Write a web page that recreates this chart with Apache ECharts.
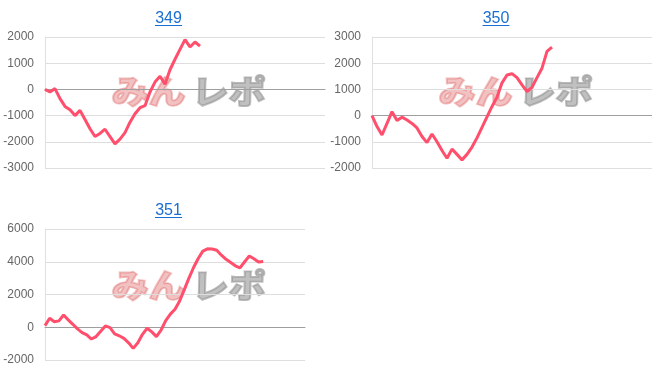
<!DOCTYPE html>
<html><head><meta charset="utf-8">
<script src="https://cdn.jsdelivr.net/npm/echarts@6/dist/echarts.min.js"></script>
<style>html,body{margin:0;padding:0;background:#fff}#c{width:652px;height:382px}</style>
</head><body><div id="c"></div>
<script>
const titles = ['349', '350', '351'];
const slotCount = 57;
const series349 = [0,-100,30,-350,-650,-780,-1000,-800,-1150,-1500,-1800,-1680,-1520,-1800,-2080,-1900,-1650,-1250,-930,-700,-620,-100,280,500,200,750,1150,1530,1900,1620,1810,1650];
const series350 = [0,-420,-740,-300,150,-190,-60,-170,-300,-470,-800,-1030,-700,-1000,-1330,-1630,-1280,-1480,-1690,-1480,-1200,-850,-450,-50,350,700,1250,1550,1600,1450,1170,920,1080,1450,1810,2450,2610];
const series351 = [100,550,340,390,750,450,180,-100,-330,-470,-720,-570,-250,80,-20,-400,-520,-680,-950,-1290,-950,-430,-60,-280,-570,-170,400,800,1100,1600,2300,3000,3650,4200,4650,4790,4780,4700,4400,4150,3950,3750,3620,4000,4350,4180,3980,4020];
const yRanges = [[-3000,2000,1000],[-2000,3000,1000],[-2000,6000,2000]];
const allSeries = [series349, series350, series351];

const slots = Array.from({length: slotCount}, (_, i) => String(i));
const grids = [
  {left:45, top:37, width:280, height:131},
  {left:372, top:37, width:280, height:131},
  {left:45, top:229, width:260, height:131}
];
const titleCenters = [[168.5,11],[496,11],[168.5,203]];
const chart = echarts.init(document.getElementById('c'), null, {renderer:'canvas'});
const font = 'Arial, "Liberation Sans", sans-serif';
const wmFont = 'italic 900 37px "Noto Sans CJK JP"';
const option = {
  animation:false,
  grid: grids,
  xAxis: grids.map((g,i)=>({
    type:'category', gridIndex:i, data:slots, boundaryGap:false,
    axisLabel:{show:false}, axisTick:{show:false},
    axisLine:{show:true, onZero:true, lineStyle:{color:'#9e9e9e', width:1}},
    splitLine:{show:false}
  })),
  yAxis: grids.map((g,i)=>({
    type:'value', gridIndex:i, min:yRanges[i][0], max:yRanges[i][1], interval:yRanges[i][2],
    axisLine:{show:true, lineStyle:{color:'#e0e0e0'}}, axisTick:{show:false},
    axisLabel:{color:'#666', fontSize:12, fontFamily:font, margin:11, formatter:v=>String(v)},
    splitLine:{lineStyle:{color:'#dedede'}}
  })),
  series: allSeries.map((d,i)=>({
    type:'line', xAxisIndex:i, yAxisIndex:i, data:d, showSymbol:false, symbol:'none',
    lineStyle:{color:'#ff4f6d', width:3}, z:5
  })),
  graphic: titleCenters.flatMap((c,i)=>[
    {type:'text', z:10, x:c[0], y:c[1], style:{text:titles[i], fill:'#1a6fd0', font:'16px '+font, textAlign:'center', textVerticalAlign:'top'}},
    {type:'rect', z:10, x:c[0]-13.5, y:c[1]+14, shape:{x:0, y:0, width:27, height:1}, style:{fill:'#1a6fd0'}}
  ]).concat([[104,75],[431,75],[104,269]].flatMap(p=>[
    {type:'text', x:p[0], y:p[1], z:-10, skewX:0.25, scaleY:0.9, style:{text:'みん', fill:'rgba(222,100,100,0.4)', stroke:'rgba(222,100,100,0.4)', lineWidth:2, font:wmFont}},
    {type:'text', x:p[0]+80, y:p[1], z:-10, skewX:0.25, scaleY:0.9, style:{text:'レポ', fill:'rgba(140,140,140,0.55)', stroke:'rgba(140,140,140,0.55)', lineWidth:2, font:wmFont}}
  ]))
};
chart.setOption(option);
</script></body></html>
